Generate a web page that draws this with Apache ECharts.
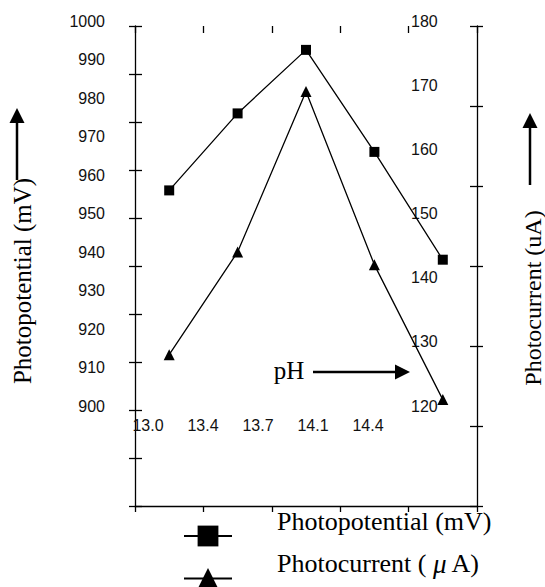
<!DOCTYPE html>
<html>
<head>
<meta charset="utf-8">
<script src="https://cdn.jsdelivr.net/npm/echarts/dist/echarts.min.js"></script>
<style>
  html, body { margin: 0; padding: 0; background: #fff; }
  #chart { width: 545px; height: 587px; }
</style>
</head>
<body>
<div id="chart"></div>
<script>
// pH categories and measured values
const phLabels = ['13.0', '13.4', '13.7', '14.1', '14.4'];
const photopotential = [956, 976, 992.5, 966, 938];   // mV, left axis
const photocurrent = [128, 144, 169, 142, 121];       // uA, right axis
const potentialAxis = [900, 1000, 10];  // min, max, step
const currentAxis = [120, 180, 10];
const seriesNames = ['Photopotential (mV)', 'Photocurrent ( μ A)'];

const serif = '"Liberation Serif", "Times New Roman", serif';
const sans = '"Liberation Sans", Arial, sans-serif';

var myChart = echarts.init(document.getElementById('chart'), null, { renderer: 'svg' });

// frame axes: line + ticks (outward), twin axes draw the inward half of the ticks
const frameX = (inside) => ({
  type: 'category', gridIndex: 0, data: phLabels, boundaryGap: true,
  axisLine: { show: !inside, onZero: false, lineStyle: { color: '#000', width: 1.3 } },
  axisTick: { show: true, inside: inside, length: inside ? 7 : 6, lineStyle: { color: '#000', width: 1.3 } },
  axisLabel: { show: false }, splitLine: { show: false }
});
const frameY = (range, pos, inside) => ({
  type: 'value', gridIndex: 0, position: pos,
  min: range[0], max: range[1], interval: range[2],
  axisLine: { show: !inside, lineStyle: { color: '#000', width: 1.3 } },
  axisTick: { show: true, inside: inside, length: inside ? 7 : 6, lineStyle: { color: '#000', width: 1.3 } },
  axisLabel: { show: false }, splitLine: { show: false }
});
// label-only axes
const labelY = (range, pos, offset) => ({
  type: 'value', gridIndex: 1, position: pos, offset: offset,
  min: range[0], max: range[1], interval: range[2],
  axisLine: { show: false }, axisTick: { show: false }, splitLine: { show: false },
  axisLabel: { show: true, margin: 8, color: '#111', fontFamily: sans, fontSize: 16,
    formatter: function (v) { return String(v); } }
});

const legendItem = (name, top) => ({
  orient: 'vertical',
  left: 183,
  top: top,
  padding: 0,
  itemWidth: 48,
  itemHeight: 26,
  selectedMode: false,
  lineStyle: { width: 2 },
  textStyle: {
    fontFamily: serif, fontSize: 26, color: '#000',
    padding: [0, 0, 30, 40],
    rich: {
      t: { fontFamily: serif, fontSize: 26, color: '#000' },
      mu: { fontFamily: serif, fontSize: 27, fontStyle: 'italic', color: '#000' }
    }
  },
  formatter: function (n) {
    if (n.indexOf('μ') >= 0) {
      return '{t|Photocurrent ( }{mu|μ}{t| A)}';
    }
    return n;
  },
  data: [name]
});

const arrow = (x1, y1, x2, y2) => {
  const len = Math.hypot(x2 - x1, y2 - y1);
  const ux = (x2 - x1) / len, uy = (y2 - y1) / len;
  const hl = 15, hw = 7.5;
  const bx = x2 - ux * hl, by = y2 - uy * hl;
  return [
    { type: 'line', shape: { x1: x1, y1: y1, x2: bx, y2: by }, style: { stroke: '#000', lineWidth: 2.5 } },
    { type: 'polygon', shape: { points: [[x2, y2], [bx - uy * hw, by + ux * hw], [bx + uy * hw, by - ux * hw]] }, style: { fill: '#000' } }
  ];
};

var option = {
  backgroundColor: '#fff',
  animation: false,
  grid: [
    { left: 135, right: 68, top: 26, bottom: 81 },   // frame with ticks
    { left: 135, right: 68, top: 21, bottom: 181 },  // data + value labels
    { left: 148, right: 177, top: 21, bottom: 178 }  // pH labels
  ],
  xAxis: [
    frameX(false),
    frameX(true),
    { type: 'category', gridIndex: 1, data: phLabels, boundaryGap: true, show: false },
    {
      type: 'category', gridIndex: 2, data: phLabels, boundaryGap: false,
      axisLine: { show: false }, axisTick: { show: false }, splitLine: { show: false },
      axisLabel: { show: true, interval: 0, margin: 8, color: '#111', fontFamily: sans, fontSize: 16 }
    }
  ],
  yAxis: [
    frameY(potentialAxis, 'left', false),
    frameY(potentialAxis, 'left', true),
    frameY(currentAxis, 'right', false),
    frameY(currentAxis, 'right', true),
    labelY(potentialAxis, 'left', 22),
    labelY(currentAxis, 'right', -74),
    { type: 'value', gridIndex: 2, show: false }
  ],
  legend: [
    legendItem(seriesNames[0], 508),
    legendItem(seriesNames[1], 550)
  ],
  series: [
    {
      name: seriesNames[0],
      type: 'line',
      xAxisIndex: 2, yAxisIndex: 4,
      data: photopotential,
      symbol: 'rect', symbolSize: 10,
      lineStyle: { color: '#000', width: 1.3 },
      itemStyle: { color: '#000' }
    },
    {
      name: seriesNames[1],
      type: 'line',
      xAxisIndex: 2, yAxisIndex: 5,
      data: photocurrent,
      symbol: 'triangle', symbolSize: 11,
      lineStyle: { color: '#000', width: 1.3 },
      itemStyle: { color: '#000' }
    }
  ],
  graphic: [
    {
      type: 'text', x: 22, y: 281, rotation: Math.PI / 2,
      style: { text: 'Photopotential (mV)', font: '25px ' + serif, fill: '#000', align: 'center', verticalAlign: 'middle' }
    },
    {
      type: 'text', x: 533, y: 298, rotation: Math.PI / 2,
      style: { text: 'Photocurrent (uA)', font: '24px ' + serif, fill: '#000', align: 'center', verticalAlign: 'middle' }
    },
    {
      type: 'text', x: 289, y: 370,
      style: { text: 'pH', font: '25px ' + serif, fill: '#000', align: 'center', verticalAlign: 'middle' }
    }
  ].concat(arrow(17, 180, 17, 108), arrow(530, 185, 530, 113), arrow(313, 372, 410, 372))
};

myChart.setOption(option);
</script>
</body>
</html>
